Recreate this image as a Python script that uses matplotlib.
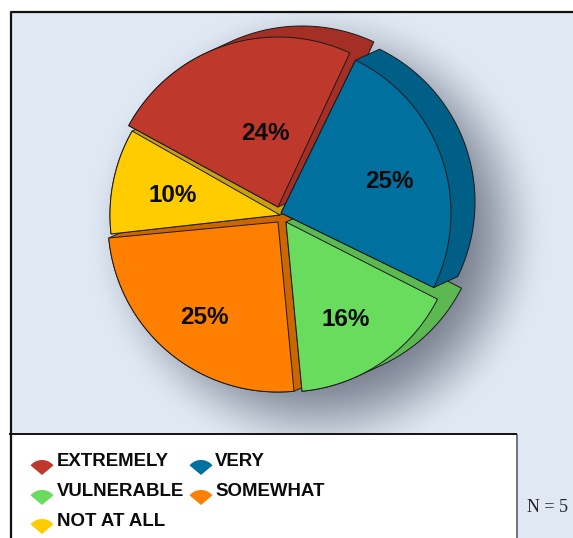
import matplotlib
matplotlib.use("Agg")
import matplotlib.pyplot as plt
import numpy as np
from matplotlib.patches import Polygon, Rectangle

labels = ["EXTREMELY", "VERY", "VULNERABLE", "SOMEWHAT", "NOT AT ALL"]
shares = [24, 25, 16, 25, 10]
face_colors = ["#bf382c", "#00709f", "#69db5d", "#ff8000", "#ffcc00"]
side_colors = ["#a32f25", "#005f87", "#5cb850", "#cc6600", "#c9a010"]

WIDTH, HEIGHT = 573, 538
RADIUS = 170
START = 64.0
DEPTH = (24, -11)

# slices go round the pie in this order, counter-clockwise from the top right
ring = [0, 4, 3, 2, 1]
# slice centres, each one pulled slightly off the middle of the pie
centres = [(278, 207), (281, 213), (286, 222), (278, 222), (280, 215)]
# small extra rotation per slice, in degrees
turns = [1.0, 0.0, -1.0, -1.0, 0.0]
label_pos = [(265, 133), (389, 181), (346, 319), (204, 317), (173, 196)]
# legend rows: marker x, text x, y
legend_pos = [(42, 57, 462), (201, 215, 462), (42, 57, 492), (201, 215, 492), (42, 57, 521)]


def flip(y):
    return HEIGHT - y


def wedge_points(centre, t0, t1, radius=RADIUS):
    theta = np.radians(np.linspace(t0, t1, 90))
    x = centre[0] + radius * np.cos(theta)
    y = flip(centre[1]) + radius * np.sin(theta)
    return np.vstack([[centre[0], flip(centre[1])], np.column_stack([x, y])])


def hull(points):
    pts = sorted(map(tuple, points))

    def half(seq):
        out = []
        for p in seq:
            while len(out) > 1 and np.cross(np.subtract(out[-1], out[-2]), np.subtract(p, out[-2])) <= 0:
                out.pop()
            out.append(p)
        return out[:-1]

    return np.array(half(pts) + half(pts[::-1]))


fig = plt.figure(figsize=(WIDTH / 100, HEIGHT / 100), dpi=100)
ax = fig.add_axes([0, 0, 1, 1])
ax.axis("off")

# pale panel with the soft drop shadow under the pie
yy, xx = np.mgrid[12:HEIGHT, 10:WIDTH]
base = np.array([224, 232, 243], dtype=float)
shade = np.array([105, 112, 128], dtype=float)
dist = np.hypot(xx - 318, yy - 232)
t = np.clip((232 - dist) / 95, 0, 1)
alpha = (t * t * (3 - 2 * t))[..., None] * 0.85
panel = (base * (1 - alpha) + shade * alpha) / 255
ax.imshow(panel, extent=(10, WIDTH, flip(HEIGHT), flip(12)), origin="upper", aspect="auto", zorder=0)
ax.set_xlim(0, WIDTH)
ax.set_ylim(0, HEIGHT)

spans = {}
angle = START
for i in ring:
    spans[i] = (angle + turns[i], angle + turns[i] + shares[i] * 3.6)
    angle += shares[i] * 3.6

# back to front: later slices sit over the side walls of earlier ones
zorder = 2
for i in [3, 2, 4, 0, 1]:
    t0, t1 = spans[i]
    pts = wedge_points(centres[i], t0, t1)
    wall = hull(np.vstack([pts, pts + [DEPTH[0], -DEPTH[1]]]))
    ax.add_patch(Polygon(wall, closed=True, fc=side_colors[i], ec="#1a1a1a", lw=0.7, zorder=zorder))
    ax.add_patch(Polygon(pts, closed=True, fc=face_colors[i], ec="#1a1a1a", lw=0.7, zorder=zorder + 1))
    zorder += 2

for share, (x, y) in zip(shares, label_pos):
    ax.text(x, flip(y), f"{share}%", ha="center", va="center", fontsize=17.5,
            fontweight="bold", family="Liberation Sans", color="#0b0b0b", zorder=20)

# legend box with frame lines
ax.add_patch(Rectangle((10, 0), 506, flip(434), fc="white", ec="none", zorder=22))
ax.add_patch(Rectangle((516, 0), 2, flip(434), fc="#6f7682", ec="none", zorder=22))
ax.plot([10, 516], [flip(434), flip(434)], color="#111111", lw=1.4, zorder=23)
ax.plot([10.5, 10.5, WIDTH], [0, flip(12), flip(12)], color="#111111", lw=1.6, zorder=23)

for name, colour, (mx, tx, y) in zip(labels, face_colors, legend_pos):
    marker = wedge_points((mx, y + 13), 40, 140, 15)
    ax.add_patch(Polygon(marker, closed=True, fc=colour, ec="none", zorder=24))
    ax.text(tx, flip(y), name, ha="left", va="center", fontsize=13.4, fontweight="bold",
            family="Liberation Sans", color="#0b0b0b", zorder=24)

ax.text(527, flip(508), "N = 5", ha="left", va="center", fontsize=13,
        family="Liberation Serif", color="#222222", zorder=24)

fig.savefig("out.png", dpi=100)
